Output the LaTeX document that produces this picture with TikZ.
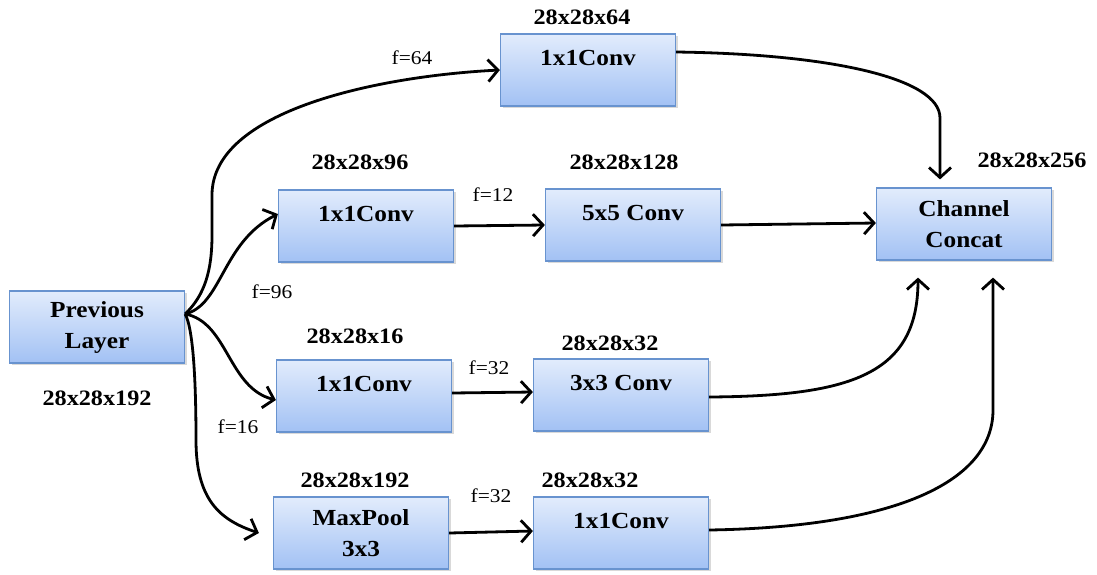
\documentclass[tikz,border=0pt]{standalone}
\usepackage{fontspec}
\setmainfont[FakeStretch=1.1]{Liberation Serif}
\usetikzlibrary{arrows.meta,shadows}
\definecolor{boxtop}{HTML}{E2ECFC}
\definecolor{boxbot}{HTML}{A2C1F4}
\definecolor{boxedge}{HTML}{6893CF}
\tikzset{
  block/.style={rectangle, draw=boxedge, line width=1.2pt,
    top color=boxtop, bottom color=boxbot,
    minimum width=175pt, minimum height=72pt, align=center,
    font=\fontsize{23}{31}\selectfont\bfseries,
    drop shadow={shadow xshift=2pt, shadow yshift=-2pt, opacity=0.25, fill=black!60}},
  oneline/.style={text depth=25pt},
  dims/.style={font=\fontsize{22}{26}\selectfont\bfseries},
  flabel/.style={font=\fontsize{19.5}{23}\selectfont},
  link/.style={line width=2.8pt, -{Straight Barb[length=10pt, width=22pt, line width=2.8pt]}}
}
\begin{document}
\begin{tikzpicture}[x=1pt, y=-1pt]
\useasboundingbox (0,0) rectangle (1097,574);

% blocks
\node[block] (prev)           at (97,327)   {Previous\\Layer};
\node[block, oneline] (topc)  at (588,70)   {1x1Conv};
\node[block, oneline] (c1a)   at (366,226)  {1x1Conv};
\node[block, oneline] (c5)    at (633,225)  {5x5 Conv};
\node[block] (concat)         at (964,224)  {Channel\\Concat};
\node[block, oneline] (c1b)   at (364,396)  {1x1Conv};
\node[block, oneline] (c3)    at (621,395)  {3x3 Conv};
\node[block] (pool)           at (361,533)  {MaxPool\\3x3};
\node[block, oneline] (c1c)   at (621,533)  {1x1Conv};

% output shapes
\node[dims] (dprev)   at (97,398)   {28x28x192};
\node[dims] (dtopc)   at (582,17)   {28x28x64};
\node[dims] (dc1a)    at (360,162)  {28x28x96};
\node[dims] (dc5)     at (624,162)  {28x28x128};
\node[dims] (dconcat) at (1032,160) {28x28x256};
\node[dims] (dc1b)    at (355,336)  {28x28x16};
\node[dims] (dc3)     at (610,343)  {28x28x32};
\node[dims] (dpool)   at (355,480)  {28x28x192};
\node[dims] (dc1c)    at (590,480)  {28x28x32};

% filter counts
\node[flabel] (f64)  at (412,58)  {f=64};
\node[flabel] (f12)  at (493,195) {f=12};
\node[flabel] (f96)  at (272,292) {f=96};
\node[flabel] (f32a) at (489,368) {f=32};
\node[flabel] (f16)  at (238,427) {f=16};
\node[flabel] (f32b) at (491,496) {f=32};

% fan-out point and arrow ends
\coordinate (fan) at ([yshift=13pt]prev.east);
\coordinate (poolin) at ([xshift=-14pt]pool.west);
\coordinate (intop) at ([xshift=-24pt, yshift=8pt]concat.north);
\coordinate (inleft) at ([xshift=-46pt, yshift=-17pt]concat.south);
\coordinate (inright) at ([xshift=29pt, yshift=-17pt]concat.south);

% branches leaving the previous layer
\draw[link] (fan) .. controls (205,295) and (212,270) .. (212,235)
  -- (212,195) .. controls (212,110) and (380,76) .. (topc.west);
\draw[link] (fan) .. controls (222,305) and (222,242) .. ([yshift=12pt]c1a.west);
\draw[link] (fan) .. controls (228,322) and (228,388) .. ([yshift=-4pt]c1b.west);
\draw[link] (fan) .. controls (194,330) and (196,390) .. (196,440)
  .. controls (196,500) and (220,520) .. (poolin);

% straight links inside the branches
\draw[link] (c1a.east) -- (c5.west);
\draw[link] ([yshift=3pt]c1b.east) -- ([yshift=3pt]c3.west);
\draw[link] (pool.east) -- ([yshift=2pt]c1c.west);
\draw[link] (c5.east) -- ([yshift=1pt]concat.west);

% branches joining the concat block
\draw[link] ([yshift=18pt]topc.east) .. controls (830,54) and (940,78) .. (940,118) -- (intop);
\draw[link] ([yshift=-2pt]c3.east) .. controls (850,396) and (918,375) .. (inleft);
\draw[link] ([yshift=3pt]c1c.east) .. controls (900,527) and (993,480) .. (993,410) -- (inright);
\end{tikzpicture}
\end{document}
